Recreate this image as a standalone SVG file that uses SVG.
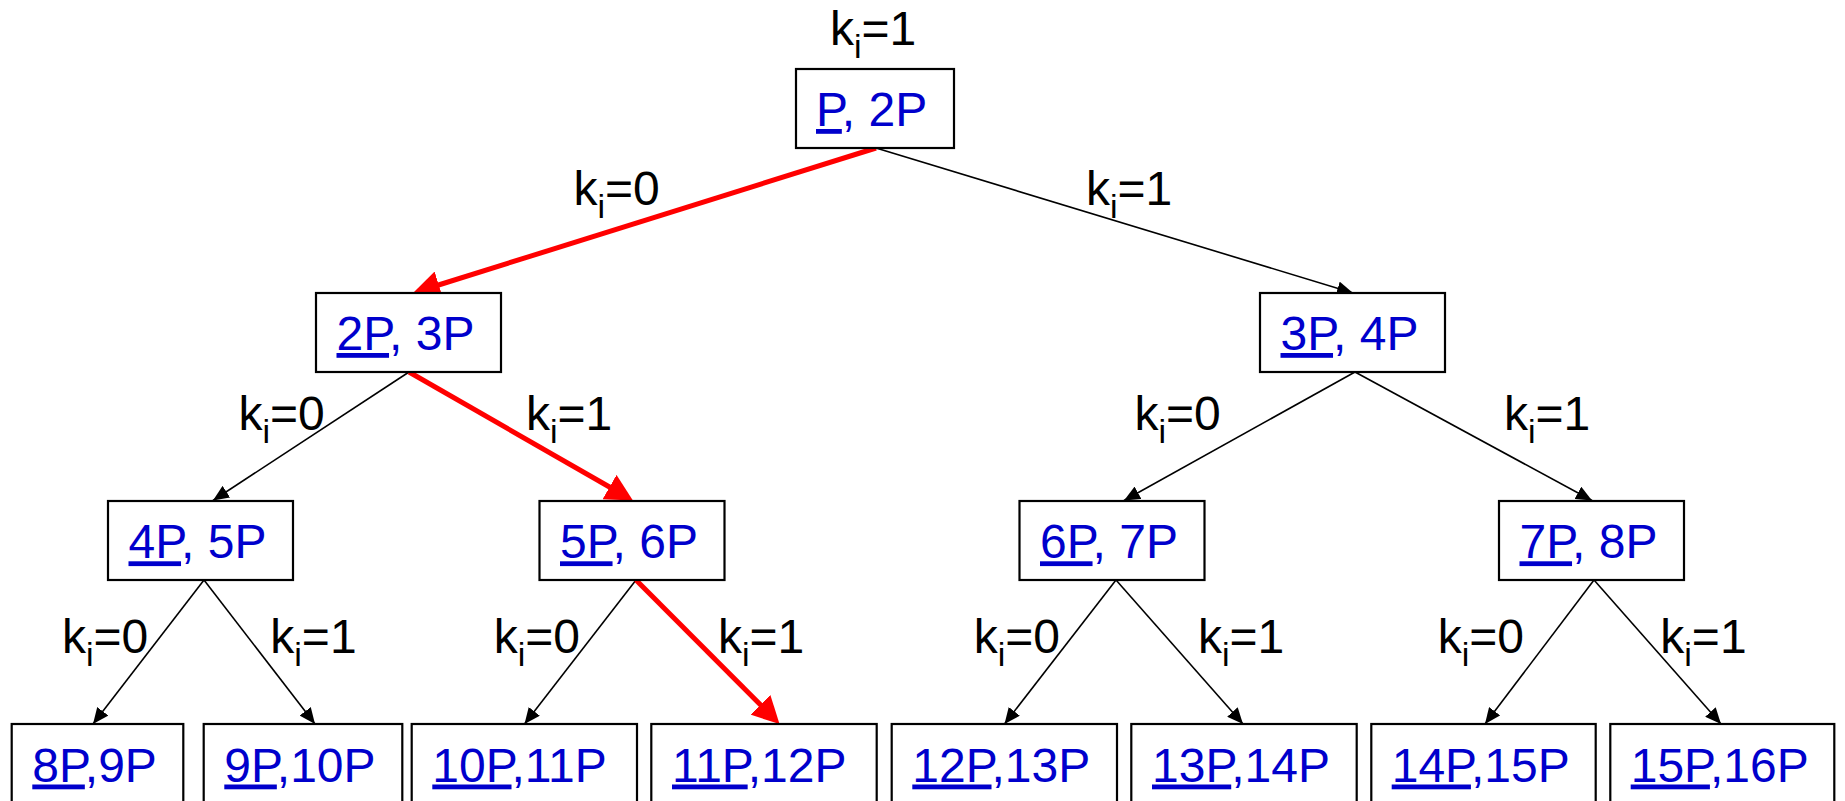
<svg xmlns="http://www.w3.org/2000/svg" width="1845" height="801" viewBox="0 0 1845 801">
<style>
.box{fill:#fff;stroke:#000;stroke-width:2.2}
.nt{font-family:"Liberation Sans",Arial,sans-serif;font-size:48px;fill:#0000CC}
.u{text-decoration:underline}
.lbl{font-family:"Liberation Sans",Arial,sans-serif;font-size:48px;fill:#000}
.sub{font-size:34px}
.blk{stroke:#000;stroke-width:1.6;fill:none;marker-end:url(#ah)}
.red{stroke:#FF0000;stroke-width:5;fill:none;marker-end:url(#rh)}
</style>
<defs>
<marker id="ah" markerUnits="userSpaceOnUse" markerWidth="16" markerHeight="14" viewBox="0 0 16 14" refX="16" refY="7" orient="auto"><path d="M0,0 L16,7 L0,14 z" fill="#000"/></marker>
<marker id="rh" markerUnits="userSpaceOnUse" markerWidth="27" markerHeight="28" viewBox="0 0 27 28" refX="7" refY="14" orient="auto"><path d="M0,0 L27,14 L0,28 z" fill="#FF0000"/></marker>
</defs>
<rect width="1845" height="801" fill="#fff"/>
<g id="connectors">
<line class="red" x1="876" y1="148" x2="432.1" y2="287"/>
<line class="blk" x1="876" y1="148" x2="1353" y2="293"/>
<line class="blk" x1="409" y1="372" x2="213" y2="500.5"/>
<line class="red" x1="409" y1="372" x2="615.6" y2="490.5"/>
<line class="blk" x1="1355" y1="372" x2="1124" y2="500.5"/>
<line class="blk" x1="1355" y1="372" x2="1592" y2="500.5"/>
<line class="blk" x1="204" y1="580" x2="93" y2="724"/>
<line class="blk" x1="204" y1="580" x2="315" y2="724"/>
<line class="blk" x1="636" y1="580" x2="524.5" y2="724"/>
<line class="red" x1="636" y1="580" x2="765.4" y2="709.8"/>
<line class="blk" x1="1116" y1="580" x2="1004.5" y2="724"/>
<line class="blk" x1="1116" y1="580" x2="1243" y2="724"/>
<line class="blk" x1="1594" y1="580" x2="1485" y2="724"/>
<line class="blk" x1="1594" y1="580" x2="1721" y2="724"/>
</g>
<g id="labels">
<text class="lbl" x="830" y="45">k<tspan class="sub" dy="13">i</tspan><tspan dy="-13">=1</tspan></text>
<text class="lbl" x="573.5" y="205">k<tspan class="sub" dy="13">i</tspan><tspan dy="-13">=0</tspan></text>
<text class="lbl" x="1086" y="205">k<tspan class="sub" dy="13">i</tspan><tspan dy="-13">=1</tspan></text>
<text class="lbl" x="238.5" y="430">k<tspan class="sub" dy="13">i</tspan><tspan dy="-13">=0</tspan></text>
<text class="lbl" x="526" y="430">k<tspan class="sub" dy="13">i</tspan><tspan dy="-13">=1</tspan></text>
<text class="lbl" x="1134.5" y="430">k<tspan class="sub" dy="13">i</tspan><tspan dy="-13">=0</tspan></text>
<text class="lbl" x="1504" y="430">k<tspan class="sub" dy="13">i</tspan><tspan dy="-13">=1</tspan></text>
<text class="lbl" x="62" y="652.5">k<tspan class="sub" dy="13">i</tspan><tspan dy="-13">=0</tspan></text>
<text class="lbl" x="270.3" y="652.5">k<tspan class="sub" dy="13">i</tspan><tspan dy="-13">=1</tspan></text>
<text class="lbl" x="493.7" y="652.5">k<tspan class="sub" dy="13">i</tspan><tspan dy="-13">=0</tspan></text>
<text class="lbl" x="718" y="652.5">k<tspan class="sub" dy="13">i</tspan><tspan dy="-13">=1</tspan></text>
<text class="lbl" x="973.7" y="652.5">k<tspan class="sub" dy="13">i</tspan><tspan dy="-13">=0</tspan></text>
<text class="lbl" x="1198" y="652.5">k<tspan class="sub" dy="13">i</tspan><tspan dy="-13">=1</tspan></text>
<text class="lbl" x="1437.7" y="652.5">k<tspan class="sub" dy="13">i</tspan><tspan dy="-13">=0</tspan></text>
<text class="lbl" x="1660.3" y="652.5">k<tspan class="sub" dy="13">i</tspan><tspan dy="-13">=1</tspan></text>
</g>
<g id="n1"><rect class="box" x="796" y="69" width="158" height="79"/><text class="nt" x="816" y="126"><tspan class="u">P</tspan>, 2P</text></g>
<g id="n2"><rect class="box" x="316" y="293" width="185" height="79"/><text class="nt" x="336.5" y="350"><tspan class="u">2P</tspan>, 3P</text></g>
<g id="n3"><rect class="box" x="1260" y="293" width="185" height="79"/><text class="nt" x="1280.5" y="350"><tspan class="u">3P</tspan>, 4P</text></g>
<g id="n4"><rect class="box" x="108" y="501" width="185" height="79"/><text class="nt" x="128.5" y="558.3"><tspan class="u">4P</tspan>, 5P</text></g>
<g id="n5"><rect class="box" x="539.5" y="501" width="185" height="79"/><text class="nt" x="560" y="558.3"><tspan class="u">5P</tspan>, 6P</text></g>
<g id="n6"><rect class="box" x="1019.5" y="501" width="185" height="79"/><text class="nt" x="1040" y="558.3"><tspan class="u">6P</tspan>, 7P</text></g>
<g id="n7"><rect class="box" x="1499" y="501" width="185" height="79"/><text class="nt" x="1519.5" y="558.3"><tspan class="u">7P</tspan>, 8P</text></g>
<g id="n8"><rect class="box" x="11.7" y="724" width="171.6" height="80"/><text class="nt" x="32.3" y="781.5"><tspan class="u">8P</tspan>,9P</text></g>
<g id="n9"><rect class="box" x="203.7" y="724" width="198.6" height="80"/><text class="nt" x="224.3" y="781.5"><tspan class="u">9P</tspan>,10P</text></g>
<g id="n10"><rect class="box" x="411.7" y="724" width="225.3" height="80"/><text class="nt" x="432.3" y="781.5"><tspan class="u">10P</tspan>,11P</text></g>
<g id="n11"><rect class="box" x="651.3" y="724" width="225.4" height="80"/><text class="nt" x="672" y="781.5"><tspan class="u">11P</tspan>,12P</text></g>
<g id="n12"><rect class="box" x="891.7" y="724" width="225.3" height="80"/><text class="nt" x="912.3" y="781.5"><tspan class="u">12P</tspan>,13P</text></g>
<g id="n13"><rect class="box" x="1131.3" y="724" width="225.4" height="80"/><text class="nt" x="1152" y="781.5"><tspan class="u">13P</tspan>,14P</text></g>
<g id="n14"><rect class="box" x="1371.3" y="724" width="224.4" height="80"/><text class="nt" x="1391.7" y="781.5"><tspan class="u">14P</tspan>,15P</text></g>
<g id="n15"><rect class="box" x="1610.3" y="724" width="224" height="80"/><text class="nt" x="1630.7" y="781.5"><tspan class="u">15P</tspan>,16P</text></g>
</svg>
